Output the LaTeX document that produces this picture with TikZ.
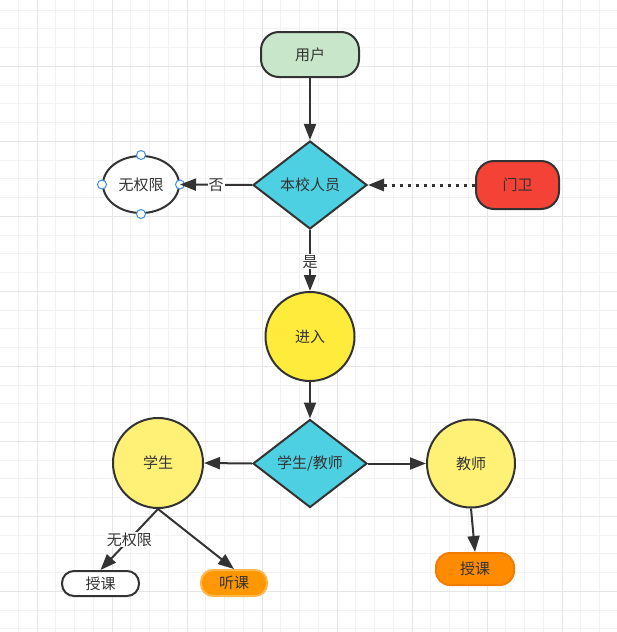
\documentclass[tikz,border=0pt]{standalone}
\usepackage{fontspec}
\setmainfont{Noto Sans CJK SC}
\usepackage{tikz}
\usetikzlibrary{shapes.geometric, arrows.meta, positioning, calc}

\definecolor{ink}{HTML}{333333}
\definecolor{gridminor}{HTML}{F2F2F2}
\definecolor{gridmajor}{HTML}{E6E6E6}
\definecolor{usergreen}{HTML}{C8E6C9}
\definecolor{decicyan}{HTML}{4DD0E1}
\definecolor{guardred}{HTML}{F44336}
\definecolor{enteryellow}{HTML}{FFEB3B}
\definecolor{roleyellow}{HTML}{FFF176}
\definecolor{listenorange}{HTML}{FF9800}
\definecolor{listenedge}{HTML}{FFB74D}
\definecolor{teachorange}{HTML}{FF8C00}
\definecolor{teachedge}{HTML}{F07C00}
\definecolor{handleblue}{HTML}{3D8DF5}

\begin{document}
\begin{tikzpicture}[x=1pt, y=-1pt,
  every node/.style={font=\fontsize{15pt}{17pt}\selectfont, text=ink},
  box/.style={draw=ink, line width=2pt, rounded corners=#1},
  decision/.style={draw=ink, line width=2pt, diamond, fill=decicyan, aspect=1.3,
    inner sep=0pt, minimum width=114pt, minimum height=88pt},
  roundnode/.style={draw=ink, line width=2pt, circle, inner sep=0pt, minimum size=#1},
  arr/.style={draw=ink, line width=2pt, -{Triangle[length=16pt, width=12pt]}},
  lbl/.style={fill=white, inner sep=1pt}]
\useasboundingbox (0,0) rectangle (617,632);
\fill[white] (0,0) rectangle (617,632);

% Grid
\foreach \k in {1,...,33} {
  \draw[gridminor, line width=1pt] (-0.5+18.75*\k,0) -- (-0.5+18.75*\k,632);
}
\foreach \k in {1,...,34} {
  \draw[gridminor, line width=1pt] (0,-8.75+18.75*\k) -- (617,-8.75+18.75*\k);
}
\foreach \k in {2,6,...,30} {
  \draw[gridmajor, line width=1pt] (-0.5+18.75*\k,0) -- (-0.5+18.75*\k,632);
}
\foreach \k in {4,8,...,32} {
  \draw[gridmajor, line width=1pt] (0,-8.75+18.75*\k) -- (617,-8.75+18.75*\k);
}

% Nodes
\node[box=18pt, fill=usergreen, minimum width=98pt, minimum height=45pt] (user) at (310,54.5) {用户};
\node[decision] (staff) at (310,185) {本校人员};
\node[draw=ink, line width=2pt, ellipse, fill=white, minimum width=76pt, minimum height=57pt, inner sep=0pt] (noaccess) at (141,184.5) {无权限};
\node[box=18pt, fill=guardred, minimum width=83pt, minimum height=48pt] (guard) at (517.5,185) {门卫};
\node[roundnode=89pt, fill=enteryellow] (enter) at (310,336.5) {进入};
\node[decision] (role) at (310,463.5) {学生/教师};
\node[roundnode=90pt, fill=roleyellow] (student) at (158,463) {学生};
\node[roundnode=88pt, fill=roleyellow] (teacher) at (471,463.5) {教师};
\node[box=12pt, fill=white, minimum width=77pt, minimum height=25pt, inner sep=0pt] (teachS) at (100.5,583.5) {授课};
\node[draw=listenedge, line width=2pt, rounded corners=12pt, fill=listenorange, minimum width=66pt, minimum height=26pt, inner sep=0pt] (listen) at (234,583) {听课};
\node[draw=teachedge, line width=2pt, rounded corners=14pt, fill=teachorange, minimum width=78pt, minimum height=32pt, inner sep=0pt] (teachT) at (475,569) {授课};

% Selection handles
\foreach \a in {north, south, east, west} {
  \draw[handleblue, fill=white, line width=1pt] (noaccess.\a) circle (4.5pt);
}

% Arrows
\draw[arr] (user) -- (staff);
\draw[arr] (staff.west) -- (noaccess.east) node[midway, lbl] {否};
\draw[arr, line width=3pt, dash pattern=on 3pt off 5pt] (guard.west) -- (staff.east);
\draw[arr] (staff.south) -- (enter.north) node[pos=0.52, lbl] {是};
\draw[arr] (enter) -- (role);
\draw[arr] (role.west) -- (student.east);
\draw[arr] (role.east) -- (teacher.west);
\draw[arr] (student.south) -- (teachS.north) node[midway, lbl] {无权限};
\draw[arr] (student.south) -- (listen.north);
\draw[arr] (teacher.south) -- (teachT.north);
\end{tikzpicture}
\end{document}
